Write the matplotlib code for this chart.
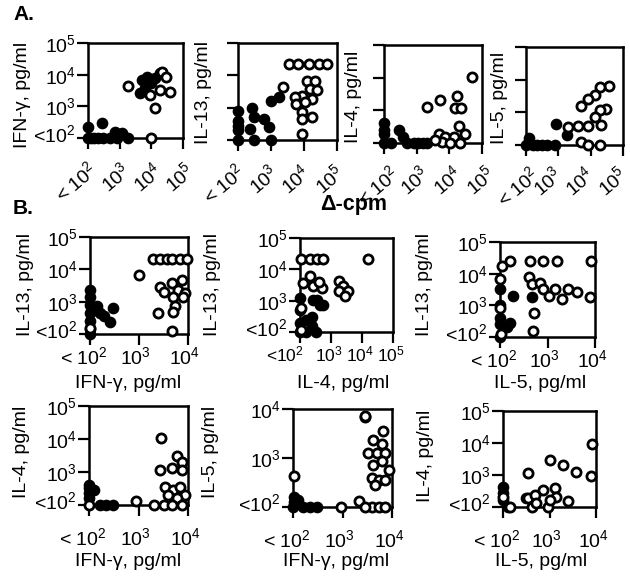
import matplotlib
matplotlib.use('Agg')
import matplotlib.pyplot as plt
import matplotlib.transforms as mtransforms
from matplotlib.ticker import NullLocator
import numpy as np

plt.rcParams['font.family'] = 'Liberation Sans'
plt.rcParams['mathtext.fontset'] = 'custom'
plt.rcParams['mathtext.rm'] = 'Liberation Sans'
plt.rcParams['mathtext.it'] = 'Liberation Sans:italic'
plt.rcParams['mathtext.bf'] = 'Liberation Sans:bold'

W, H = 630, 578

# ---- panel A: cytokine vs delta-cpm (filled = one group, open = other) ----
a1_cpm_filled = [100, 100, 120, 150, 200, 270, 300, 500, 700, 800, 1200, 1900, 4400, 4900, 6300, 7100, 10000, 13000, 18500]
a1_ifn_filled = [230, 100, 100, 100, 100, 290, 100, 100, 160, 100, 140, 100, 2600, 6800, 3700, 8500, 5400, 7600, 11000]
a1_cpm_open = [1900, 9000, 13000, 18500, 21000, 30000, 39000, 10000]
a1_ifn_open = [4400, 2300, 870, 3200, 12300, 8500, 2900, 100]

a2_cpm_filled = [100, 260, 100, 300, 600, 870, 100, 230, 100, 300, 980, 980, 1800, 100]
a2_il13_filled = [810, 1000, 400, 500, 450, 250, 200, 220, 100, 100, 100, 1650, 2100, 280]
a2_cpm_open = [3600, 6600, 13800, 28000, 51000, 2300, 12000, 22000, 15500, 25000, 8500, 5200,
               17400, 5900, 10700, 8500, 8500, 17400, 8500]
a2_il13_open = [22000, 22000, 22000, 22000, 22000, 4300, 6900, 6900, 3800, 3400, 2300, 2100,
                1900, 1300, 1450, 710, 450, 500, 155]

a3_cpm_filled = [100, 100, 100, 280, 390, 100, 160, 500, 800, 1100, 1600, 2000]
a3_il4_filled = [400, 250, 190, 250, 155, 100, 100, 100, 100, 100, 100, 100]
a3_cpm_open = [48000, 5200, 2100, 17400, 15000, 22000, 20000, 4700, 7600, 31000, 13500, 5900, 10700, 21000, 3700]
a3_il4_open = [10700, 2100, 1300, 2750, 1200, 1200, 330, 195, 155, 195, 155, 107, 100, 100, 120]

a4_cpm_filled = [870, 1800, 120, 100, 160, 220, 320, 450, 800]
a4_il5_filled = [440, 200, 160, 100, 100, 100, 100, 100, 100]
a4_cpm_open = [38000, 19000, 13200, 8300, 5100, 30000, 19000, 13200, 21000, 8300, 4100, 2000, 5100, 8300, 19000]
a4_il5_open = [6200, 5900, 3500, 2600, 1600, 1300, 1150, 720, 410, 380, 380, 350, 125, 100, 100]

# ---- panel B: cytokine vs cytokine ----
b1_ifn_filled = [100, 100, 100, 100, 100, 100, 100, 140, 160, 300, 260, 190]
b1_il13_filled = [2300, 1400, 800, 450, 250, 140, 100, 710, 440, 620, 240, 350]
b1_ifn_open = [1950, 2700, 3700, 4700, 6900, 9500, 980, 2700, 3200, 4700, 6300, 7400, 8700,
               5000, 5400, 2450, 5000, 4700, 7900, 100]
b1_il13_open = [21000, 21000, 21000, 21000, 21000, 21000, 6800, 2900, 2000, 3700, 2300, 4700, 1800,
                1400, 710, 440, 490, 125, 1400, 150]

b2_il4_filled = [100, 100, 100, 560, 350, 160, 240, 260, 450, 240, 320, 160, 100]
b2_il13_filled = [1250, 500, 200, 740, 1070, 250, 150, 1070, 740, 310, 100, 100, 100]
b2_il4_open = [110, 210, 350, 560, 16000, 210, 125, 270, 500, 1750, 2500, 1750, 3600, 2800, 110, 110, 400]
b2_il13_open = [21000, 21000, 21000, 21000, 21000, 6000, 3700, 2900, 2600, 4200, 2900, 2000, 2000,
                1400, 580, 115, 4000]

b3_il5_filled = [100, 100, 100, 100, 100, 190, 470, 160, 140]
b3_il13_filled = [3300, 1000, 400, 250, 100, 2000, 1900, 275, 200]
b3_il5_open = [110, 160, 430, 810, 1550, 8300, 100, 410, 470, 680, 810, 1050, 1450, 2000, 2750,
               4100, 7800, 100, 520, 490, 105]
b3_il13_open = [18000, 24500, 24500, 24500, 24500, 24500, 6900, 7800, 4800, 5000, 3300, 2000, 3300,
                1550, 3300, 2600, 1900, 850, 590, 160, 125]

b4_ifn_filled = [100, 100, 100, 125, 165, 225, 300, 100]
b4_il4_filled = [400, 320, 225, 280, 100, 100, 100, 160]
b4_ifn_open = [2800, 5900, 7400, 2700, 4700, 7400, 3500, 5000, 6900, 4000, 8700, 5900, 7400,
               910, 2100, 3200, 4700, 100]
b4_il4_open = [10500, 3000, 2000, 1150, 1300, 1150, 350, 280, 340, 200, 200, 160, 100,
               130, 100, 100, 100, 100]

b5_ifn_filled = [107, 107, 125, 160, 220, 300, 100]
b5_il5_filled = [160, 125, 140, 100, 100, 100, 100]
b5_ifn_open = [107, 2800, 2800, 6600, 4200, 6200, 3300, 4900, 7200, 6200, 4200, 8500, 3900, 5400,
               4600, 7200, 950, 2200, 4000, 5400, 7200, 2800]
b5_il5_open = [420, 6900, 7200, 3500, 2300, 1900, 1250, 1250, 1250, 850, 720, 580, 390, 350,
               280, 350, 100, 130, 100, 100, 100, 100]

b6_il5_filled = [100, 100, 100, 125, 320]
b6_il4_filled = [430, 280, 160, 100, 185]
b6_il5_open = [8100, 1020, 2000, 350, 3800, 7800, 100, 350, 740, 1300, 490, 1400, 2500, 930, 420,
               140, 520, 1020]
b6_il4_open = [9300, 2950, 2050, 1170, 1260, 950, 210, 185, 340, 380, 235, 200, 150, 100, 100,
               100, 130, 165]

FS = 14


def dec(n):
    return r'$\mathregular{10^{%d}}$' % n


fig = plt.figure(figsize=(W / 100, H / 100), dpi=100)


def shift(label, dx, dy):
    # nudge a tick label by a few pixels
    label.set_transform(label.get_transform() +
                        mtransforms.ScaledTranslation(dx / 100, dy / 100, fig.dpi_scale_trans))


def panel(box, xf, yf, xo, yo, xmax, ymax, ylabel, ylab_xy, xlabel=None, xlab_xy=None,
          yticklabels=True, rotate=False, xpad=1, xlt='< ', xfs=FS, dx_first=-6, dx_rest=0):
    l, t, r, b = box
    ax = fig.add_axes([l / W, 1 - b / H, (r - l) / W, (b - t) / H])
    ax.set_xscale('log')
    ax.set_yscale('log')
    ax.plot(xf, yf, 'o', ms=6.6, mfc='black', mec='black', mew=1.8, clip_on=False, zorder=3)
    ax.plot(xo, yo, 'o', ms=6.6, mfc='white', mec='black', mew=2.0, clip_on=False, zorder=4)
    ax.set_xlim(1e2, xmax)
    ax.set_ylim(1e2, ymax)

    nx = int(round(np.log10(xmax)))
    ny = int(round(np.log10(ymax)))
    xt = [10.0 ** k for k in range(2, nx + 1)]
    yt = [10.0 ** k for k in range(2, ny + 1)]
    xl = [xlt + dec(2)] + [dec(k) for k in range(3, nx + 1)]
    yl = ['<' + dec(2)] + [dec(k) for k in range(3, ny + 1)]
    ax.set_xticks(xt)
    ax.set_yticks(yt)
    ax.xaxis.set_minor_locator(NullLocator())
    ax.yaxis.set_minor_locator(NullLocator())
    ax.tick_params(axis='both', direction='out', length=8, width=1.6, colors='black')
    ax.tick_params(axis='y', pad=1)
    ax.tick_params(axis='x', pad=xpad)
    if rotate:
        ax.set_xticklabels(xl, rotation=40, ha='center', fontsize=xfs)
    else:
        ax.set_xticklabels(xl, fontsize=xfs)
    labs = ax.get_xticklabels()
    shift(labs[0], dx_first, 0)
    for lab in labs[1:]:
        shift(lab, dx_rest, 0)
    if yticklabels:
        ax.set_yticklabels(yl, fontsize=FS)
        # the bottom label sits a little above its tick
        shift(ax.get_yticklabels()[0], 0, 5)
    else:
        ax.set_yticklabels([])
    for s in ax.spines.values():
        s.set_linewidth(1.8)

    ax.set_ylabel(ylabel, fontsize=FS, va='center')
    ax.yaxis.set_label_coords(ylab_xy[0] / W, 1 - ylab_xy[1] / H, transform=fig.transFigure)
    if xlabel:
        ax.set_xlabel(xlabel, fontsize=FS, va='center')
        ax.xaxis.set_label_coords(xlab_xy[0] / W, 1 - xlab_xy[1] / H, transform=fig.transFigure)
    return ax


# row A
panel((88, 43, 183, 138), a1_cpm_filled, a1_ifn_filled, a1_cpm_open, a1_ifn_open, 1e5, 1e5,
      'IFN-γ, pg/ml', (23, 95), rotate=True, xpad=7, dx_first=-12, dx_rest=-4)
panel((238, 43, 337, 140), a2_cpm_filled, a2_il13_filled, a2_cpm_open, a2_il13_open, 1e5, 1e5,
      'IL-13, pg/ml', (203, 93), yticklabels=False, rotate=True, xpad=7, dx_first=-14, dx_rest=-8)
panel((384, 45, 482, 143), a3_cpm_filled, a3_il4_filled, a3_cpm_open, a3_il4_open, 1e5, 1e5,
      'IL-4, pg/ml', (353, 97), yticklabels=False, rotate=True, xpad=6, dx_first=-6, dx_rest=-2)
panel((526, 47, 623, 145), a4_cpm_filled, a4_il5_filled, a4_cpm_open, a4_il5_open, 1e5, 1e5,
      'IL-5, pg/ml', (500, 98), yticklabels=False, rotate=True, xpad=5, dx_first=-8, dx_rest=-11)

# row B, top
panel((90, 237, 188, 334), b1_ifn_filled, b1_il13_filled, b1_ifn_open, b1_il13_open, 1e4, 1e5,
      'IL-13, pg/ml', (25, 285), 'IFN-γ, pg/ml', (128, 384), xpad=1, dx_rest=-4)
panel((300, 238, 393, 332), b2_il4_filled, b2_il13_filled, b2_il4_open, b2_il13_open, 1e5, 1e5,
      'IL-13, pg/ml', (212, 285), 'IL-4, pg/ml', (343, 384), xpad=1, xlt='<', xfs=12.5,
      dx_first=-15, dx_rest=-2)
panel((500, 242, 595, 337), b3_il5_filled, b3_il13_filled, b3_il5_open, b3_il13_open, 1e4, 1e5,
      'IL-13, pg/ml', (424, 284), 'IL-5, pg/ml', (540, 384), xpad=1, dx_rest=-3)

# row B, bottom
panel((89, 406, 188, 505), b4_ifn_filled, b4_il4_filled, b4_ifn_open, b4_il4_open, 1e4, 1e5,
      'IL-4, pg/ml', (22, 452), 'IFN-γ, pg/ml', (128, 562), xpad=8, dx_rest=-3)
panel((293, 409, 392, 507), b5_ifn_filled, b5_il5_filled, b5_ifn_open, b5_il5_open, 1e4, 1e4,
      'IL-5, pg/ml', (211, 452), 'IFN-γ, pg/ml', (336, 562), xpad=8, dx_rest=-3)
panel((503, 411, 596, 507), b6_il5_filled, b6_il4_filled, b6_il5_open, b6_il4_open, 1e4, 1e5,
      'IL-4, pg/ml', (426, 456), 'IL-5, pg/ml', (541, 562), xpad=8, dx_rest=-3)

fig.text(354 / W, 1 - 204 / H, 'Δ-cpm', fontsize=15.5, fontweight='bold', ha='center', va='center')
fig.text(13 / W, 1 - 14 / H, 'A.', fontsize=15, fontweight='bold', ha='left', va='center')
fig.text(13 / W, 1 - 208 / H, 'B.', fontsize=15, fontweight='bold', ha='left', va='center')

fig.savefig('out.png', dpi=100)
